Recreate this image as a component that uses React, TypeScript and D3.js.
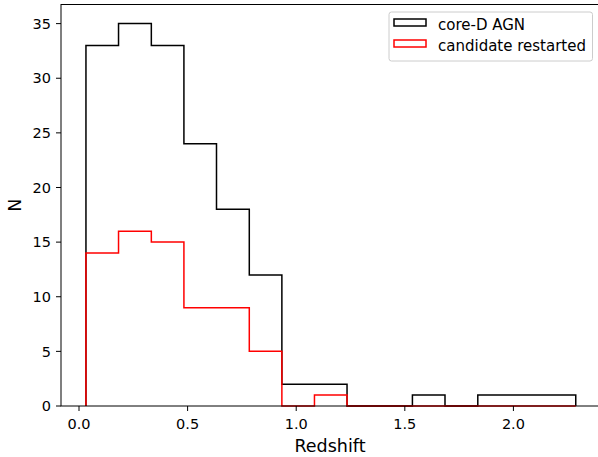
import React from "react";
import * as d3 from "d3";

const binEdges = [0.032, 0.182, 0.333, 0.483, 0.633, 0.784, 0.934, 1.084, 1.234, 1.385, 1.535, 1.685, 1.836, 1.986, 2.136, 2.287];
const coreCounts = [33, 35, 33, 24, 18, 12, 2, 2, 0, 0, 1, 0, 1, 1, 1];
const restartedCounts = [14, 16, 15, 9, 9, 5, 0, 1, 0, 0, 0, 0, 0, 0, 0];
const xTicks = [0, 0.5, 1.0, 1.5, 2.0];
const yTicks = [0, 5, 10, 15, 20, 25, 30, 35];
const seriesNames = ["core-D AGN", "candidate restarted"];
const seriesColors = ["#000000", "#ff0000"];

const W = 598, H = 457;
const L = 61, R = 600.3, T = 4.5, B = 406;

export default function App() {
  const x = d3.scaleLinear().domain([-0.0829, 2.4]).range([L, R]);
  const y = d3.scaleLinear().domain([0, 36.75]).range([B, T]);

  const stepPath = (counts: number[]) => {
    let d = `M${x(binEdges[0])},${y(0)}`;
    counts.forEach((c, i) => {
      d += `L${x(binEdges[i])},${y(c)}L${x(binEdges[i + 1])},${y(c)}`;
    });
    d += `L${x(binEdges[binEdges.length - 1])},${y(0)}`;
    return d;
  };

  const font = "DejaVu Sans, sans-serif";
  return (
    <svg width={W} height={H} style={{ position: "absolute", left: 0, top: 0, background: "#fff" }}>
      <path d={stepPath(coreCounts)} fill="none" stroke={seriesColors[0]} strokeWidth={1.5} />
      <path d={stepPath(restartedCounts)} fill="none" stroke={seriesColors[1]} strokeWidth={1.5} />
      <rect x={L} y={T} width={R - L} height={B - T} fill="none" stroke="#000" strokeWidth={1} />
      {xTicks.map((t) => (
        <g key={"x" + t}>
          <line x1={x(t)} x2={x(t)} y1={B} y2={B + 5} stroke="#000" />
          <text x={x(t)} y={429} textAnchor="middle" fontFamily={font} fontSize={14.5}>
            {t.toFixed(1)}
          </text>
        </g>
      ))}
      {yTicks.map((t) => (
        <g key={"y" + t}>
          <line x1={L - 5} x2={L} y1={y(t)} y2={y(t)} stroke="#000" />
          <text x={L - 10} y={y(t) + 5.2} textAnchor="end" fontFamily={font} fontSize={14.5}>
            {t}
          </text>
        </g>
      ))}
      <text x={330} y={452} textAnchor="middle" fontFamily={font} fontSize={17.5}>
        Redshift
      </text>
      <text transform={`translate(21,${(T + B) / 2}) rotate(-90)`} textAnchor="middle" fontFamily={font} fontSize={17.5}>
        N
      </text>
      <g>
        <rect x={389} y={12} width={203.5} height={49} rx={2.5} fill="#fff" fillOpacity={0.8} stroke="#ccc" strokeWidth={1} />
        {seriesNames.map((n, i) => (
          <g key={n}>
            <rect x={394} y={19 + i * 21} width={32} height={7} fill="none" stroke={seriesColors[i]} strokeWidth={1.5} />
            <text x={438} y={29.5 + i * 21} fontFamily={font} fontSize={15}>
              {n}
            </text>
          </g>
        ))}
      </g>
    </svg>
  );
}
